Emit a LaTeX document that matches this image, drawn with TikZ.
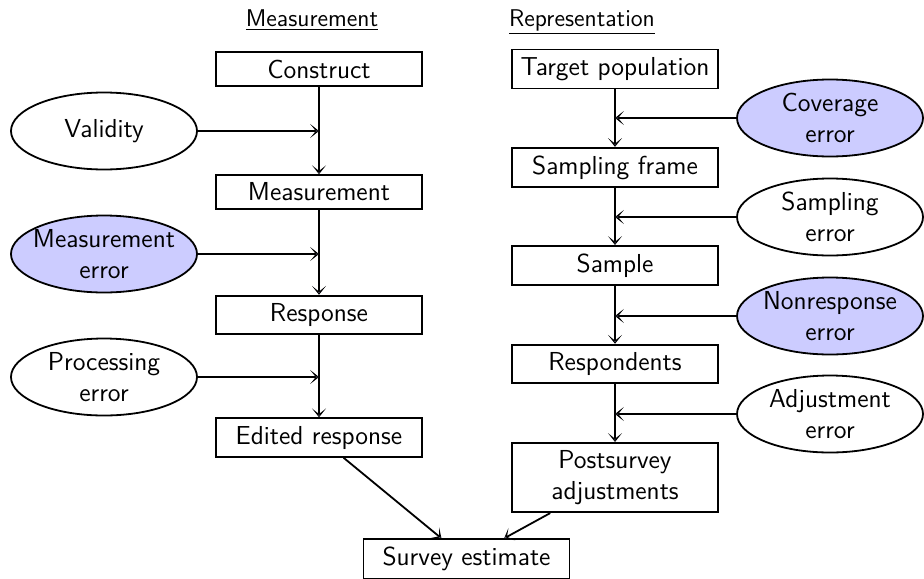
\documentclass[tikz,border=0pt]{standalone}
\usepackage{fontspec}
\usetikzlibrary{arrows.meta,shapes.geometric}
\tikzset{
  every node/.style={font=\sffamily\fontsize{13}{15.2}\selectfont},
  stepbox/.style={draw, line width=0.9pt, rectangle, minimum width=103pt, inner xsep=4pt, inner ysep=3.9pt, align=center},
  errell/.style={draw, line width=0.9pt, ellipse, minimum width=93pt, minimum height=38.5pt, inner xsep=-12pt, inner ysep=0pt, align=center},
  hl/.style={errell, fill=blue!20},
  head/.style={font=\sffamily\fontsize{12.1}{14}\selectfont, anchor=base},
  flow/.style={line width=0.9pt, -{Stealth[length=4.4pt, width=7pt, inset=2.8pt, fill=blue!20]}}
}
\begin{document}
\begin{tikzpicture}[x=0.5pt, y=-0.5pt]
\useasboundingbox (0,0) rectangle (924,578);
% headings
\node[head] (hm) at (312,26) {\underline{Measurement}};
\node[head] (hr) at (582,26) {\underline{Representation}};
% left column
\node[stepbox] (construct) at (319,69) {Construct};
\node[stepbox] (meas) at (319,192) {Measurement};
\node[stepbox] (resp) at (319,315) {Response};
\node[stepbox] (edited) at (319,437.5) {Edited response};
% right column
\node[stepbox] (target) at (615,69) {Target population};
\node[stepbox] (frame) at (615,167.5) {Sampling frame};
\node[stepbox] (sample) at (615,265.5) {Sample};
\node[stepbox] (respondents) at (615,364) {Respondents};
\node[stepbox] (post) at (615,477.5) {Postsurvey\\adjustments};
\node[stepbox] (estimate) at (466.5,559) {Survey estimate};
% ellipses
\node[errell] (validity) at (104,131) {Validity};
\node[hl] (measerr) at (104,254) {Measurement\\error};
\node[errell] (procerr) at (104,377) {Processing\\error};
\node[hl] (coverr) at (830,118) {Coverage\\error};
\node[errell] (samperr) at (830,217) {Sampling\\error};
\node[hl] (nonresp) at (830,316) {Nonresponse\\error};
\node[errell] (adjerr) at (830,414) {Adjustment\\error};
% junction points
\coordinate (jv) at (construct |- validity);
\coordinate (jm) at (construct |- measerr);
\coordinate (jp) at (construct |- procerr);
\coordinate (jc) at (target |- coverr);
\coordinate (js) at (target |- samperr);
\coordinate (jn) at (target |- nonresp);
\coordinate (ja) at (target |- adjerr);
% vertical flows
\draw[flow] (construct) -- (meas);
\draw[flow] (meas) -- (resp);
\draw[flow] (resp) -- (edited);
\draw[flow] (target) -- (frame);
\draw[flow] (frame) -- (sample);
\draw[flow] (sample) -- (respondents);
\draw[flow] (respondents) -- (post);
% error inputs
\draw[flow] (validity) -- (jv);
\draw[flow] (measerr) -- (jm);
\draw[flow] (procerr) -- (jp);
\draw[flow] (coverr) -- (jc);
\draw[flow] (samperr) -- (js);
\draw[flow] (nonresp) -- (jn);
\draw[flow] (adjerr) -- (ja);
% to estimate
\draw[flow] (edited) -- (estimate);
\draw[flow] (post) -- (estimate);
\end{tikzpicture}
\end{document}
